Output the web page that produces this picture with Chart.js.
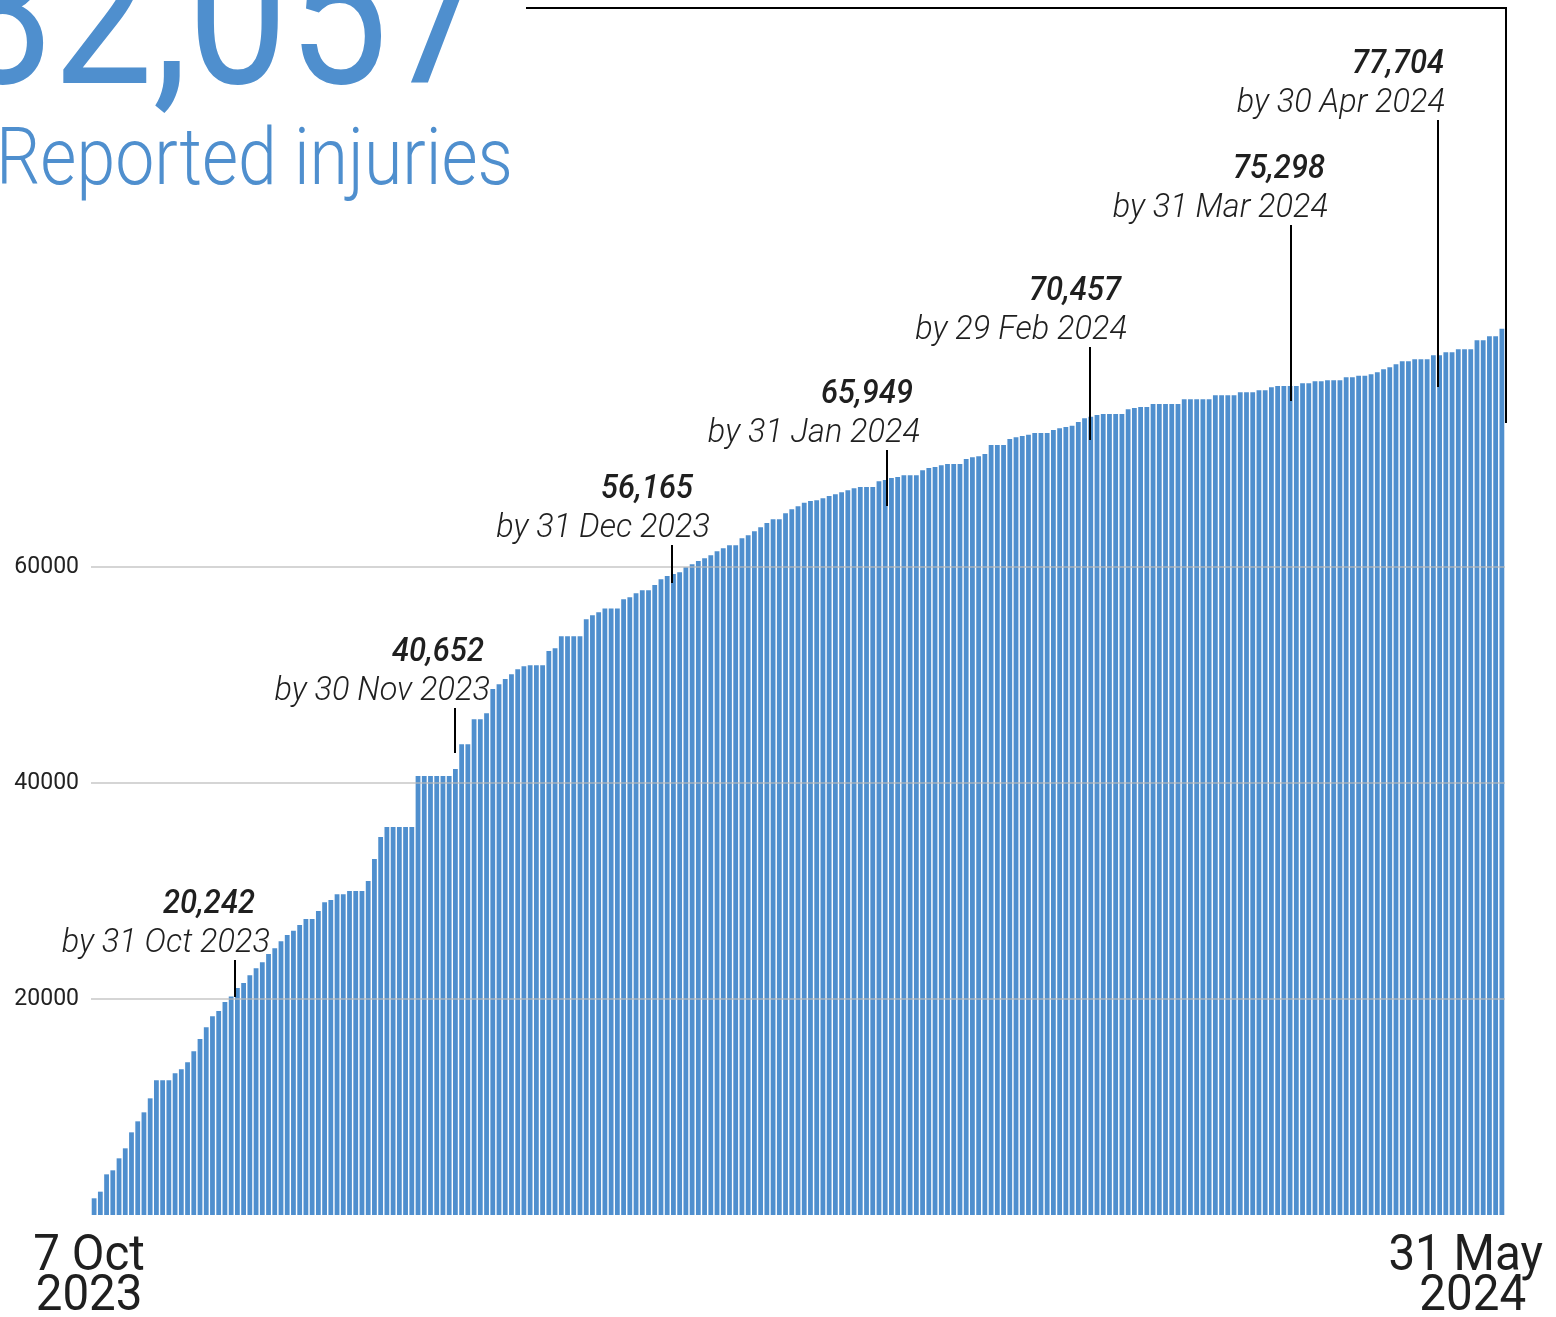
<!DOCTYPE html>
<html>
<head>
<meta charset="utf-8">
<title>Reported injuries</title>
<script src="https://cdn.jsdelivr.net/npm/chart.js@4.4.1/dist/chart.umd.min.js"></script>
<style>
  html, body { margin: 0; padding: 0; background: #fff; }
  #wrap { width: 1556px; height: 1317px; overflow: hidden; }
</style>
</head>
<body>
<div id="wrap"><canvas id="injuriesChart" width="1556" height="1317"></canvas></div>
<script>
/* ---------- DATA ---------- */
// cumulative reported injuries, one bar per report, 7 Oct 2023 -> 31 May 2024
const injuries = [
  1546, 2160, 3765, 4136, 5247, 6173, 7654, 8673, 9506, 10802,
  12469, 12469, 12469, 13117, 13488, 14136, 15154, 16296, 17377, 18395,
  18889, 19722, 20242, 21019, 21481, 22191, 22840, 23395, 24167, 24691,
  25340, 25926, 26327,
  26852, 27407, 27407, 28148, 28951, 29167, 29691, 29691, 30000, 30000,
  30000, 30926, 32963, 35000, 35926, 35926, 35926, 35926, 35926, 40652,
  40652, 40652, 40652, 40652, 40652, 41296, 43580, 43580, 45895, 45895,
  46451,
  48704, 49136, 49630, 50062, 50525, 50802, 50895, 50895, 50895, 52222,
  52469, 53580, 53580, 53580, 53580, 55154, 55524, 55802, 56165, 56165,
  56165, 57006, 57191, 57562, 57840, 57840, 58333, 58858, 59167, 59352,
  59506,
  59969, 60247, 60556, 60802, 61080, 61451, 61728, 62006, 62006, 62654,
  62932, 63302, 63673, 64074, 64414, 64414, 64969, 65340, 65617, 65949,
  66111, 66173, 66358, 66574, 66728, 66914, 67099, 67284, 67407, 67407,
  67407, 67932, 68056,
  68241, 68333, 68488, 68488, 68488, 68951, 69167, 69259, 69414, 69537,
  69537, 69537, 70000, 70154, 70247, 70457, 71296, 71296, 71296, 71852,
  72006, 72130, 72253, 72407, 72407, 72407, 72685, 72840, 72963, 73083,
  73426, 73765, 73920, 74074,
  74167, 74167, 74167, 74167, 74599, 74722, 74815, 74815, 75093, 75093,
  75093, 75093, 75093, 75525, 75525, 75525, 75525, 75525, 75895, 75895,
  75895, 75895, 76173, 76173, 76173, 76358, 76358, 76636, 76759, 76759,
  76759, 76759,
  77006, 77006, 77191, 77191, 77284, 77284, 77284, 77562, 77562, 77704,
  77704, 77840, 78025, 78302, 78488, 78765, 79043, 79043, 79228, 79228,
  79228, 79599, 79599, 79877, 79877, 80154, 80154, 80154, 80988, 80988,
  81358, 81358, 82057
];

const firstDate = ["7 Oct", "2023"];
const lastDate = ["31 May", "2024"];
const yTicks = [20000, 40000, 60000];

const totalText = "82,057";
const subtitleText = "Reported injuries";

const calloutValues = ["20,242", "40,652", "56,165", "65,949", "70,457", "75,298", "77,704"];
const calloutDates = ["by 31 Oct 2023", "by 30 Nov 2023", "by 31 Dec 2023", "by 31 Jan 2024",
                      "by 29 Feb 2024", "by 31 Mar 2024", "by 30 Apr 2024"];

/* ---------- CALLOUT LAYOUT (bar index + y values the pointer spans) ---------- */
const calloutLayout = [
  { at: 22.6,  tip: 20185, top: 23610,  dx: 35, vdx: -15 },
  { at: 57.9,  tip: 42780, top: 46940,  dx: 35, vdx: -6 },
  { at: 92.8,  tip: 58520, top: 62040,  dx: 38, vdx: -17 },
  { at: 127.3, tip: 65650, top: 70830,  dx: 33, vdx: -7 },
  { at: 159.9, tip: 71760, top: 80370,  dx: 37, vdx: -6 },
  { at: 192.2, tip: 75370, top: 91670,  dx: 37, vdx: -3 },
  { at: 215.8, tip: 76670, top: 101390, dx: 7,  vdx: -1 }
];
const totalBracket = { fromX: 526, top: 111760, tip: 73330 };

const blue = "#4f8fce";
const ink = "#1f1f1f";

/* ---------- HELPERS ---------- */
function narrowText(ctx, text, x, y, font, align, squeeze) {
  ctx.save();
  ctx.font = font;
  ctx.textAlign = align;
  ctx.textBaseline = "alphabetic";
  ctx.translate(x, y);
  ctx.scale(squeeze, 1);
  ctx.fillText(text, 0, 0);
  ctx.restore();
}

function narrowWidth(ctx, text, font, squeeze) {
  ctx.save();
  ctx.font = font;
  const w = ctx.measureText(text).width * squeeze;
  ctx.restore();
  return w;
}

/* ---------- OVERLAY PLUGIN ---------- */
const overlayPlugin = {
  id: "overlay",
  afterDraw(chart) {
    const ctx = chart.ctx;
    const xs = chart.scales.x;
    const ys = chart.scales.y;

    // big total + subtitle
    ctx.fillStyle = blue;
    narrowText(ctx, totalText, 488, 83, "400 207px Roboto", "right", 0.86);
    const subFont = "300 79px Roboto";
    const subScale = 517 / narrowWidth(ctx, subtitleText, subFont, 1);
    narrowText(ctx, subtitleText, -4, 184, subFont, "left", subScale);

    // monthly callouts
    ctx.strokeStyle = "#000";
    ctx.lineWidth = 2;
    calloutLayout.forEach((c, i) => {
      const px = Math.round(xs.getPixelForValue(c.at));
      const yTop = ys.getPixelForValue(c.top);
      const yTip = ys.getPixelForValue(c.tip);
      ctx.beginPath();
      ctx.moveTo(px, yTop);
      ctx.lineTo(px, yTip);
      ctx.stroke();

      const right = px + c.dx;
      ctx.fillStyle = ink;
      narrowText(ctx, calloutDates[i], right, yTop - 8, "italic 300 34px Roboto", "right", 0.955);
      narrowText(ctx, calloutValues[i], right + c.vdx, yTop - 47, "italic 500 34px Roboto", "right", 0.91);
    });

    // bracket for the total
    const bx = xs.right + 1;
    const by = ys.getPixelForValue(totalBracket.top);
    ctx.beginPath();
    ctx.moveTo(totalBracket.fromX, by);
    ctx.lineTo(bx, by);
    ctx.lineTo(bx, ys.getPixelForValue(totalBracket.tip));
    ctx.stroke();

    // first / last date under the bars
    const dateFont = "400 50px Roboto";
    const sq = 0.95;
    ctx.fillStyle = ink;
    const x0 = xs.getPixelForValue(0) - 5;
    narrowText(ctx, firstDate[0], x0, 1270, dateFont, "center", sq);
    narrowText(ctx, firstDate[1], x0, 1310, dateFont, "center", sq);

    const half = Math.max(...lastDate.map(t => narrowWidth(ctx, t, dateFont, sq))) / 2;
    const x1 = Math.min(xs.getPixelForValue(injuries.length - 1), chart.width - 15 - half);
    narrowText(ctx, lastDate[0], x1 + 2, 1270, dateFont, "center", sq);
    narrowText(ctx, lastDate[1], x1 + 9, 1310, dateFont, "center", sq);
  }
};

/* ---------- CHART ---------- */
const labels = injuries.map((_, i) =>
  i === 0 ? firstDate.join(" ") : (i === injuries.length - 1 ? lastDate.join(" ") : "")
);

new Chart(document.getElementById("injuriesChart"), {
  type: "bar",
  data: {
    labels,
    datasets: [{
      label: "Reported injuries",
      data: injuries,
      backgroundColor: blue,
      borderWidth: 0,
      barPercentage: 0.77,
      categoryPercentage: 1
    }]
  },
  options: {
    responsive: false,
    animation: false,
    devicePixelRatio: 1,
    layout: { padding: { left: 0, right: 51, top: 0, bottom: 0 } },
    plugins: {
      legend: { display: false },
      tooltip: { enabled: false }
    },
    scales: {
      x: {
        grid: { display: false },
        border: { display: false },
        ticks: { display: false },
        afterFit: s => { s.height = 102; }
      },
      y: {
        min: 0,
        max: 112500,
        afterBuildTicks: s => { s.ticks = yTicks.map(v => ({ value: v })); },
        ticks: {
          callback: v => String(v),
          font: { family: "Roboto", size: 23 },
          color: "#222",
          padding: 12
        },
        grid: {
          color: "rgba(185,185,185,0.6)",
          lineWidth: 2,
          drawTicks: false,
          z: 1
        },
        border: { display: false },
        afterFit: s => {
          s.width = 91;
          s.paddingTop = 0;
          s.paddingBottom = 0;
        }
      }
    }
  },
  plugins: [overlayPlugin]
});
</script>
</body>
</html>
